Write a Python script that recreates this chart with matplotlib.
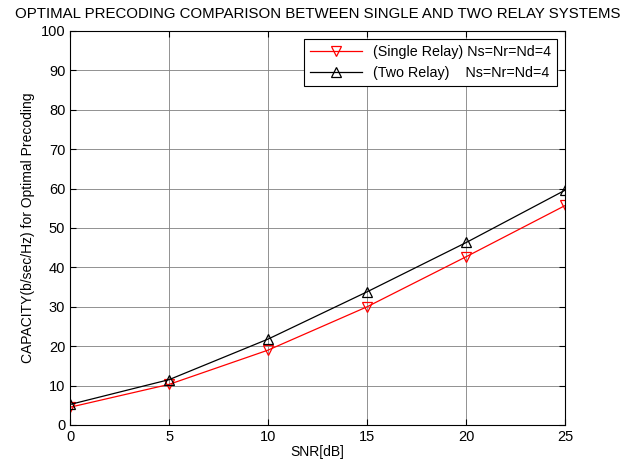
import matplotlib
matplotlib.use("Agg")
import matplotlib.pyplot as plt

snr_db = [0, 5, 10, 15, 20, 25]
single_relay = [4.5, 10.3, 19.0, 30.0, 42.7, 55.7]
two_relay = [5.2, 11.5, 21.8, 33.8, 46.3, 59.6]

plt.rcParams["font.family"] = ["Liberation Sans", "DejaVu Sans"]

fig = plt.figure(figsize=(6.26, 4.68), dpi=100)
fig.patch.set_facecolor("white")
ax = fig.add_axes([0.112, 0.092, 0.791, 0.842])

ax.plot(snr_db, single_relay, color="red", lw=0.9, marker="v", ms=7,
        mfc="none", mec="red", mew=0.9,
        label="(Single Relay) Ns=Nr=Nd=4")
ax.plot(snr_db, two_relay, color="black", lw=0.9, marker="^", ms=7,
        mfc="none", mec="black", mew=0.9,
        label="(Two Relay)    Ns=Nr=Nd=4")

ax.set_xlim(0, 25)
ax.set_ylim(0, 100)
ax.set_xticks(range(0, 26, 5))
ax.set_yticks(range(0, 101, 10))
ax.grid(True, color="#808080", lw=0.6, ls="-")
ax.tick_params(direction="in", top=True, right=True, labelsize=10.5, length=4)
for s in ax.spines.values():
    s.set_linewidth(0.8)

ax.set_xlabel("SNR[dB]", fontsize=10, labelpad=1)
ax.set_ylabel("CAPACITY(b/sec/Hz) for Optimal Precoding", fontsize=10)
ax.set_title("OPTIMAL PRECODING COMPARISON BETWEEN SINGLE AND TWO RELAY SYSTEMS",
             fontsize=10.8, pad=9)

leg = ax.legend(loc="upper right", fontsize=10.3, fancybox=False,
                edgecolor="black", framealpha=1, handlelength=3.6,
                borderaxespad=0.6)
leg.get_frame().set_linewidth(0.8)

fig.savefig("out.png", dpi=100, facecolor="white")
